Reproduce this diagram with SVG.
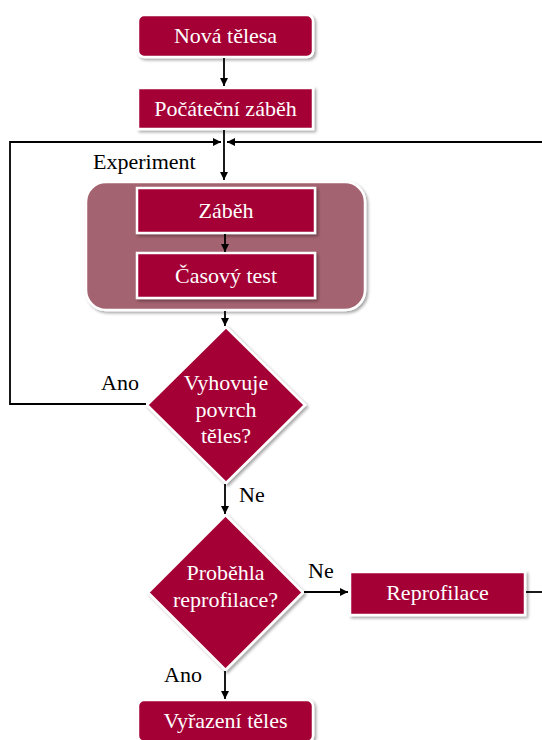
<svg xmlns="http://www.w3.org/2000/svg" width="542" height="740" viewBox="0 0 542 740">
<defs>
<filter id="sh" x="-10%" y="-10%" width="130%" height="140%">
<feDropShadow dx="2" dy="2" stdDeviation="1.8" flood-color="#000" flood-opacity="0.35"/>
</filter>
<marker id="ah" viewBox="0 0 10 10" refX="10" refY="5" markerWidth="8" markerHeight="8" markerUnits="userSpaceOnUse" orient="auto">
<path d="M0,0 L10,5 L0,10 z" fill="#000"/>
</marker>
<style>
.box{fill:#A50034;stroke:#fff;stroke-width:2.5;filter:url(#sh)}
.grp{fill:#A4636F;stroke:#fff;stroke-width:2.5;filter:url(#sh)}
.t{font-family:"Liberation Serif","Times New Roman",serif;font-size:22px;fill:#fff;text-anchor:middle}
.l{font-family:"Liberation Serif","Times New Roman",serif;font-size:22px;fill:#000}
.c{fill:none;stroke:#000;stroke-width:1.8}
</style>
</defs>
<rect width="542" height="740" fill="#fff"/>
<g id="nova-telesa">
<rect class="box" x="138" y="15" width="175" height="42" rx="6"/>
<text class="t" x="225.5" y="43">Nová tělesa</text>
</g>
<g id="pocatecni-zabeh">
<rect class="box" x="138" y="88" width="175" height="41"/>
<text class="t" x="225.5" y="116">Počáteční záběh</text>
</g>
<g id="experiment">
<rect class="grp" x="86" y="182" width="279" height="128" rx="20"/>
</g>
<g id="zabeh">
<rect class="box" x="137" y="188" width="178" height="45"/>
<text class="t" x="226" y="218">Záběh</text>
</g>
<g id="casovy-test">
<rect class="box" x="137" y="253" width="178" height="45"/>
<text class="t" x="226" y="283">Časový test</text>
</g>
<g id="vyhovuje">
<path class="box" d="M226,327 L305,405 L226,483 L147,405 Z"/>
<text class="t" x="226" y="390">Vyhovuje</text>
<text class="t" x="226" y="417">povrch</text>
<text class="t" x="226" y="443">těles?</text>
</g>
<g id="probehla">
<path class="box" d="M225.5,515 L303,592.5 L225.5,670 L148,592.5 Z"/>
<text class="t" x="225.5" y="580">Proběhla</text>
<text class="t" x="225.5" y="607">reprofilace?</text>
</g>
<g id="reprofilace">
<rect class="box" x="350" y="572" width="175" height="43"/>
<text class="t" x="437.5" y="600">Reprofilace</text>
</g>
<g id="vyrazeni">
<rect class="box" x="138" y="700" width="175" height="42" rx="6"/>
<text class="t" x="225.5" y="728">Vyřazení těles</text>
</g>
<g id="connectors">
<path class="c" d="M224,58 V86" marker-end="url(#ah)"/>
<path class="c" d="M224,130 V180" marker-end="url(#ah)"/>
<path class="c" d="M146,404 H10 V142 H221" marker-end="url(#ah)"/>
<path class="c" d="M545,142 H227" marker-end="url(#ah)"/>
<path class="c" d="M225,234 V252" marker-end="url(#ah)"/>
<path class="c" d="M225,311 V326" marker-end="url(#ah)"/>
<path class="c" d="M225,484 V514" marker-end="url(#ah)"/>
<path class="c" d="M304,592 H348" marker-end="url(#ah)"/>
<path class="c" d="M526,592 H545"/>
<path class="c" d="M225,671 V699" marker-end="url(#ah)"/>
<text class="l" x="93" y="169">Experiment</text>
<text class="l" x="101" y="390">Ano</text>
<text class="l" x="239" y="502">Ne</text>
<text class="l" x="308" y="578">Ne</text>
<text class="l" x="164" y="682">Ano</text>
</g>
</svg>
